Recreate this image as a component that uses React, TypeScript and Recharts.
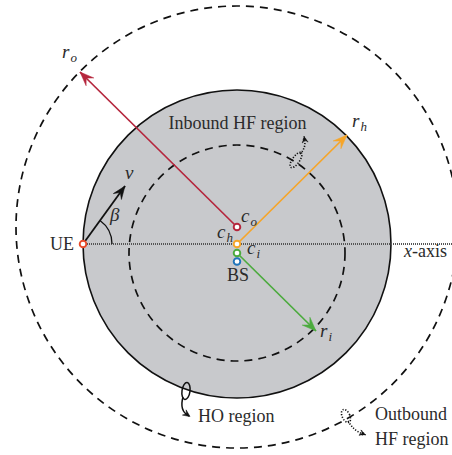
import React from 'react';
import { ComposedChart, XAxis, YAxis, Scatter } from 'recharts';

// Data coordinates: origin at c_h (centre of the HO disk), y up, 1 unit = 1 px.
const X_DOMAIN = [-237, 215];
const Y_DOMAIN = [-211, 244];

// Circles: HO disk (r_h), outbound HF boundary (r_o), inbound HF boundary (r_i)
const circleNames = ['r_h', 'r_o', 'r_i'];
const circleX = [0, 0, 0];
const circleY = [0, 17, -9];
const circleR = [154, 221, 108];

// Points: UE, c_o, c_h, c_i, BS
const pointNames = ['UE', 'c_o', 'c_h', 'c_i', 'BS'];
const pointX = [-154, 0, 0, 0, 0];
const pointY = [0, 17, 0, -9, -17.5];
const pointColors = ['#e84c2b', '#b5263d', '#f6a529', '#4cab3e', '#1f74ba'];

// Arrows (start -> end)
const arrowNames = ['r_o', 'r_h', 'r_i', 'v'];
const arrowX0 = [0, 0, 0, -154];
const arrowY0 = [17, 0, -9, 0];
const arrowX1 = [-157, 110, 79, -112];
const arrowY1 = [172, 109, -87, 58];
const arrowColors = ['#b5263d', '#f6a529', '#4cab3e', '#111111'];

// x-axis line
const axisX = [-154, 215];
const axisY = [0, 0];

// Loop markers (HF / HO transitions)
const loopNames = ['inbound', 'ho', 'outbound'];
const loopX = [59, -51, 109];
const loopY = [84, -147, -172];

// Labels
const labelText = ['r|o', 'r|h', 'r|i', 'v', 'β', 'c|o', 'c|h', 'c|i', 'BS', 'UE', 'x-axis', 'Inbound HF region', 'HO region', 'Outbound', 'HF region'];
const labelX = [-175, 115, 83, -112, -127, 4, -20, 10, 1, -163, 167, 0.5, -39, 138, 138];
const labelY = [186, 117, -93, 65, 23, 22, 6, -10, -37, -6, -13, 115, -178, -176, -201];
const labelAnchor = ['start', 'start', 'start', 'start', 'start', 'start', 'start', 'start', 'middle', 'end', 'start', 'middle', 'start', 'start', 'start'];

const circleData = circleNames.map((n, i) => ({ name: n, x: circleX[i], y: circleY[i], r: circleR[i] }));
const pointData = pointNames.map((n, i) => ({ name: n, x: pointX[i], y: pointY[i], color: pointColors[i] }));
const loopData = loopNames.map((n, i) => ({ name: n, x: loopX[i], y: loopY[i] }));
const labelData = labelText.map((t, i) => ({ text: t, x: labelX[i], y: labelY[i], anchor: labelAnchor[i] }));
const ueData = [{ x: pointX[0], y: pointY[0] }];
const axisData = axisX.map((x, i) => ({ x, y: axisY[i] }));
const arrowData = arrowNames.map((n, i) => {
  const ang = (Math.atan2(-(arrowY1[i] - arrowY0[i]), arrowX1[i] - arrowX0[i]) * 180) / Math.PI;
  return [
    { x: arrowX0[i], y: arrowY0[i], head: false, angle: ang, color: arrowColors[i], small: i === 3 },
    { x: arrowX1[i], y: arrowY1[i], head: true, angle: ang, color: arrowColors[i], small: i === 3 },
  ];
});

const FONT = '"Liberation Serif", "Times New Roman", serif';
const TXT = '#2b2b2b';

const Head = ({ x, y, angle, color, len = 14, half = 5.5 }: any) => (
  <path
    d={`M0,0 L${-len},${-half} L${-len * 0.62},0 L${-len},${half} Z`}
    transform={`translate(${x},${y}) rotate(${angle})`}
    fill={color}
    stroke={color}
    strokeWidth={0.5}
    strokeLinejoin="round"
  />
);

const Empty = () => <g />;

const DiskShape = (p: any) => (
  <circle cx={p.cx} cy={p.cy} r={p.payload.r} fill="#c8c9cc" stroke="#111" strokeWidth={1.6} />
);
const DashedShape = (p: any) => (
  <circle cx={p.cx} cy={p.cy} r={p.payload.r} fill="none" stroke="#111" strokeWidth={1.7} strokeDasharray="8 6" />
);
const MarkerShape = (p: any) => (
  <circle cx={p.cx} cy={p.cy} r={3.3} fill="#fff" stroke={p.payload.color} strokeWidth={1.9} />
);
const ArrowHeadShape = (p: any) => {
  const d = p.payload;
  if (!d.head) return <g />;
  return <Head x={p.cx} y={p.cy} angle={d.angle} color={d.color} len={d.small ? 13 : 14} half={d.small ? 5 : 5.5} />;
};

const BetaArc = (p: any) => {
  const r = 29;
  const a = Math.atan2(58, 42);
  const ex = p.cx + r * Math.cos(a);
  const ey = p.cy - r * Math.sin(a);
  return <path d={`M${p.cx + r},${p.cy} A${r},${r} 0 0 0 ${ex},${ey}`} fill="none" stroke="#111" strokeWidth={1.3} />;
};

const LoopShape = (p: any) => {
  const { cx, cy, payload } = p;
  if (payload.name === 'inbound') {
    return (
      <g transform={`translate(${cx},${cy})`} fill="none" stroke="#111" strokeWidth={1.6} strokeDasharray="1.2 1.6">
        <ellipse cx={0} cy={0} rx={9} ry={3.6} transform="rotate(-55)" />
        <path d="M4,-6 Q11,-13 8,-22" />
        <Head x={8} y={-24} angle={-100} color="#111" len={7} half={3.2} />
      </g>
    );
  }
  if (payload.name === 'ho') {
    return (
      <g transform={`translate(${cx},${cy})`} fill="none" stroke="#111" strokeWidth={1.5}>
        <ellipse cx={0} cy={0} rx={4} ry={8.5} transform="rotate(8)" />
        <path d="M-3,6 Q-7,20 3,25" />
        <Head x={4} y={25.5} angle={35} color="#111" len={7} half={3.2} />
      </g>
    );
  }
  return (
    <g transform={`translate(${cx},${cy})`} fill="none" stroke="#111" strokeWidth={1.6} strokeDasharray="1.2 1.6">
      <ellipse cx={0} cy={0} rx={3.8} ry={7} transform="rotate(-25)" />
      <path d="M2,5 Q8,15 17,18" />
      <Head x={20} y={19} angle={22} color="#111" len={7} half={3.2} />
    </g>
  );
};

const LabelShape = (p: any) => {
  const { cx, cy, payload } = p;
  const t: string = payload.text;
  if (t.includes('|')) {
    const [m, s] = t.split('|');
    return (
      <text x={cx} y={cy} textAnchor={payload.anchor} fontFamily={FONT} fontSize={19} fill={TXT} fontStyle="italic">
        {m}
        <tspan fontSize={13} dy={4} dx={1}>{s}</tspan>
      </text>
    );
  }
  if (t === 'v' || t === 'β') {
    return (
      <text x={cx} y={cy} textAnchor={payload.anchor} fontFamily={FONT} fontSize={19} fill={TXT} fontStyle="italic">
        {t}
      </text>
    );
  }
  if (t === 'x-axis') {
    return (
      <text x={cx} y={cy} textAnchor={payload.anchor} fontFamily={FONT} fontSize={18} fill={TXT}>
        <tspan fontStyle="italic">x</tspan>-axis
      </text>
    );
  }
  return (
    <text x={cx} y={cy} textAnchor={payload.anchor} fontFamily={FONT} fontSize={18} fill={TXT}>
      {t}
    </text>
  );
};

export default function App() {
  return (
    <div style={{ position: 'absolute', left: 0, top: 0, width: 452, height: 455, background: '#fff' }}>
      <ComposedChart width={452} height={455} margin={{ top: 0, right: 0, bottom: 0, left: 0 }}>
        <XAxis type="number" dataKey="x" domain={X_DOMAIN} hide allowDataOverflow />
        <YAxis type="number" dataKey="y" domain={Y_DOMAIN} hide allowDataOverflow />
        <Scatter data={[circleData[0]]} shape={DiskShape} isAnimationActive={false} />
        <Scatter data={[circleData[1], circleData[2]]} shape={DashedShape} isAnimationActive={false} />
        <Scatter
          data={axisData}
          shape={Empty}
          line={{ stroke: '#555', strokeWidth: 2, strokeDasharray: '1 1' }}
          lineType="joint"
          isAnimationActive={false}
        />
        {arrowNames.map((n, i) => (
          <Scatter
            key={n}
            data={arrowData[i]}
            shape={ArrowHeadShape}
            line={{ stroke: arrowColors[i], strokeWidth: i === 3 ? 1.8 : 1.7 }}
            lineType="joint"
            isAnimationActive={false}
          />
        ))}
        <Scatter data={ueData} shape={BetaArc} isAnimationActive={false} />
        <Scatter data={loopData} shape={LoopShape} isAnimationActive={false} />
        <Scatter data={pointData} shape={MarkerShape} isAnimationActive={false} />
        <Scatter data={labelData} shape={LabelShape} isAnimationActive={false} />
      </ComposedChart>
    </div>
  );
}
